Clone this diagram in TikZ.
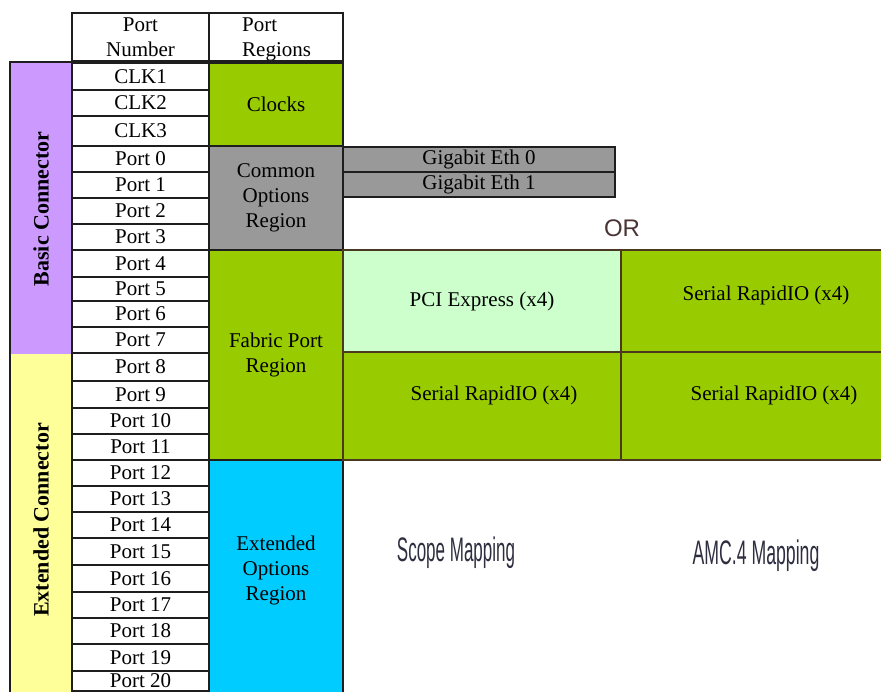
\documentclass[tikz,border=0pt]{standalone}
\usepackage{fontspec}
\setmainfont{Liberation Serif}
\newfontfamily\orfont{Liberation Sans}
\definecolor{purp}{HTML}{CC99FF}
\definecolor{yel}{HTML}{FFFF99}
\definecolor{grn}{HTML}{99CC00}
\definecolor{gry}{HTML}{999999}
\definecolor{cyn}{HTML}{00CCFF}
\definecolor{lgrn}{HTML}{CCFFCC}
\definecolor{linec}{HTML}{1E1E1E}
\definecolor{brn}{HTML}{4A3820}
\definecolor{ortxt}{HTML}{4A3434}
\definecolor{maptxt}{HTML}{2E2E40}
\newcommand\mkbox[7]{%
  \pgfmathsetmacro\mkw{#4-#2}\pgfmathsetmacro\mkh{#5-#3}%
  \node[#6, minimum width=\mkw pt, minimum height=\mkh pt] (#1) at ({(#2+#4)/2},{(#3+#5)/2}) {#7};}
\begin{document}
\begin{tikzpicture}[x=1pt,y=-1pt,
  cellbase/.style={rectangle, draw=linec, line width=1.5pt, inner sep=0pt, outer sep=0pt},
  txt/.style={font=\fontsize{21}{25}\selectfont, align=center, inner sep=0pt},
  portcell/.style={cellbase, fill=white, txt},
  regcell/.style={cellbase, txt},
  gridcell/.style={cellbase, draw=brn, txt},
  barlabel/.style={font=\fontsize{22}{26}\selectfont\bfseries, rotate=90, inner sep=0pt},
  maplabel/.style={font=\orfont\fontsize{34}{38}\selectfont, text=maptxt, inner sep=0pt}]
\useasboundingbox (0,0) rectangle (881,692);
\clip (0,0) rectangle (881,692);
% header
\mkbox{hnum}{72}{13}{209}{62}{portcell}{Port\\Number}
\mkbox{hreg}{209}{13}{343}{62}{portcell}{}
\node[txt, align=left, anchor=west] (hregtxt) at (242,39) {Port\\Regions};
% left bar
\mkbox{basic}{10}{62}{72}{354}{rectangle, fill=purp, inner sep=0pt}{}
\mkbox{ext}{10}{354}{72}{700}{rectangle, fill=yel, inner sep=0pt}{}
\mkbox{bar}{10}{62}{72}{700}{cellbase}{}
\node[barlabel] (basiclab) at (41,209) {Basic Connector};
\node[barlabel] (extlab) at (41,520) {Extended Connector};
% port rows
\foreach \lab/\t/\b [count=\i] in {CLK1/63/90, CLK2/90/116, CLK3/116/146,
  Port 0/146/172, Port 1/172/198, Port 2/198/224, Port 3/224/250,
  Port 4/250/277, Port 5/277/301, Port 6/301/327, Port 7/327/353,
  Port 8/353/381, Port 9/381/408, Port 10/408/434, Port 11/434/460,
  Port 12/460/486, Port 13/486/512, Port 14/512/538, Port 15/538/565,
  Port 16/565/592, Port 17/592/618, Port 18/618/644, Port 19/644/671,
  Port 20/671/691}{
  \mkbox{port\i}{72}{\t}{209}{\b}{portcell}{\lab}
}
\draw[linec, line width=1.5pt] (port24.south west) -- ++(0,10);
\draw[linec, line width=1.5pt] (port24.south east) -- ++(0,10);
% regions
\mkbox{clocks}{209}{63}{343}{146}{regcell, fill=grn}{Clocks}
\mkbox{common}{209}{146}{343}{250}{regcell, fill=gry}{Common\\Options\\Region}
\mkbox{fabric}{209}{250}{343}{460}{regcell, fill=grn}{Fabric Port\\Region}
\mkbox{extreg}{209}{460}{343}{700}{regcell, fill=cyn}{}
\node[txt] (extregtxt) at (276,570) {Extended\\Options\\Region};
% header bottom rule
\draw[linec, line width=3pt] (hnum.south west) -- (hreg.south east);
% gigabit
\mkbox{geth0}{343}{147}{615}{172}{regcell, fill=gry}{Gigabit Eth 0}
\mkbox{geth1}{343}{172}{615}{197}{regcell, fill=gry}{Gigabit Eth 1}
\node[font=\orfont\fontsize{24}{28}\selectfont, text=ortxt, inner sep=0pt] (ortext) at (622,228) {OR};
% right grid
\mkbox{pcie}{343}{250}{621}{352}{gridcell, fill=lgrn}{PCI Express (x4)}
\mkbox{srioa}{621}{250}{919}{352}{gridcell, fill=grn}{}
\mkbox{sriob}{343}{352}{621}{460}{gridcell, fill=grn}{}
\mkbox{srioc}{621}{352}{919}{460}{gridcell, fill=grn}{}
\node[txt] (srioatxt) at (766,295) {Serial RapidIO (x4)};
\node[txt] (sriobtxt) at (494,395) {Serial RapidIO (x4)};
\node[txt] (srioctxt) at (774,395) {Serial RapidIO (x4)};
% mapping labels
\node[maplabel] (scope) at (456,553) {\scalebox{0.5}[1]{Scope Mapping}};
\node[maplabel] (amc) at (756,556) {\scalebox{0.52}[1]{AMC.4 Mapping}};
\end{tikzpicture}
\end{document}
